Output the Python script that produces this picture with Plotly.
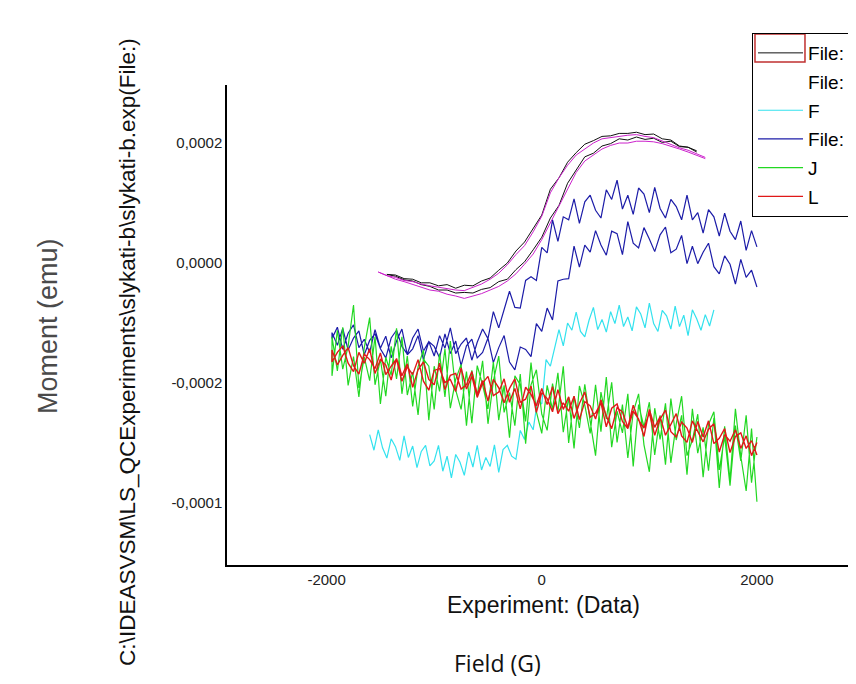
import numpy as np
import plotly.graph_objects as go

# Field sweeps (G)
FIELD_WIDE = [-1950, -1900, -1850, -1800, -1750, -1700, -1650, -1600, -1550, -1500,
              -1450, -1400, -1350, -1300, -1250, -1200, -1150, -1100, -1050, -1000,
              -950, -900, -850, -800, -750, -700, -650, -600, -550, -500,
              -450, -400, -350, -300, -250, -200, -150, -100, -50, 0,
              50, 100, 150, 200, 250, 300, 350, 400, 450, 500,
              550, 600, 650, 700, 750, 800, 850, 900, 950, 1000,
              1050, 1100, 1150, 1200, 1250, 1300, 1350, 1400, 1450, 1500,
              1550, 1600, 1650, 1700, 1750, 1800, 1850, 1900, 1950, 2000]
FIELD_CYAN = [-1600, -1560, -1520, -1480, -1440, -1400, -1360, -1320, -1280, -1240,
              -1200, -1160, -1120, -1080, -1040, -1000, -960, -920, -880, -840,
              -800, -760, -720, -680, -640, -600, -560, -520, -480, -440,
              -400, -360, -320, -280, -240, -200, -160, -120, -80, -40,
              0, 40, 80, 120, 160, 200, 240, 280, 320, 360,
              400, 440, 480, 520, 560, 600, 640, 680, 720, 760,
              800, 840, 880, 920, 960, 1000, 1040, 1080, 1120, 1160,
              1200, 1240, 1280, 1320, 1360, 1400, 1440, 1480, 1520, 1560, 1600]
FIELD_BLACK = [-1440, -1360, -1280, -1200, -1120, -1040, -960, -880, -800, -720,
               -640, -560, -480, -400, -320, -240, -160, -80, 0, 80,
               160, 240, 320, 400, 480, 560, 640, 720, 800, 880,
               960, 1040, 1120, 1200, 1280, 1360, 1440]
FIELD_MAGENTA = [-1520] + FIELD_BLACK + [1520]

# Moments in micro-emu
BLACK_DOWN = [187, 193, 195, 205, 207, 215, 214, 218, 216, 216, 212, 211, 204, 198, 184, 168, 142, 123,
              80, 58, 35, 20, 0, -12, -25, -30, -38, -37, -42, -36, -38, -33, -33, -27, -26, -20, -19]
BLACK_UP = [-19, -22, -28, -30, -36, -39, -45, -45, -50, -49, -50, -44, -41, -31, -27, -11, 2, 22,
            43, 75, 96, 133, 156, 177, 183, 195, 199, 207, 205, 210, 206, 208, 201, 203, 194, 193, 185]
MAGENTA_DOWN = [176, 182, 188, 192, 198, 203, 209, 211, 214, 213, 211, 209, 207, 200, 190, 180, 163, 142, 117,
                78, 52, 29, 14, -3, -17, -27, -35, -40, -46, -45, -43, -40, -38, -35, -31, -29, -24, -21, -15]
MAGENTA_UP = [-15, -22, -27, -31, -36, -40, -45, -47, -52, -55, -59, -55, -51, -45, -39, -30, -18, -2, 15,
              39, 67, 95, 125, 151, 170, 180, 190, 196, 200, 200, 203, 203, 202, 199, 195, 190, 185, 180, 174]
CYAN = [-286, -312, -278, -308, -325, -293, -306, -329, -288, -324,
        -305, -341, -314, -304, -338, -330, -304, -347, -322, -358,
        -319, -332, -354, -315, -340, -304, -345, -324, -339, -303,
        -349, -311, -304, -322, -327, -279, -294, -265, -278, -229,
        -235, -161, -172, -139, -111, -138, -100, -112, -82, -114,
        -123, -95, -74, -111, -94, -115, -81, -101, -70, -106,
        -90, -113, -73, -85, -108, -67, -101, -114, -79, -88,
        -110, -72, -106, -87, -121, -78, -93, -112, -86, -105, -78]
BLUE_DOWN = [-116, -137, -109, -145, -125, -113, -153, -129, -118, -143,
             -158, -125, -112, -139, -152, -125, -110, -147, -131, -155,
             -121, -142, -108, -151, -135, -125, -162, -132, -110, -126,
             -81, -108, -76, -47, -74, -75, -29, -23, -29, 26,
             17, 72, 36, 77, 72, 107, 66, 102, 113, 88,
             75, 122, 106, 138, 90, 113, 81, 125, 115, 84,
             126, 91, 75, 106, 94, 72, 113, 72, 84, 50,
             89, 77, 45, 83, 53, 39, 70, 21, 54, 27]
BLUE_UP = [-126, -107, -144, -117, -103, -141, -127, -149, -111, -142,
           -122, -158, -130, -110, -153, -143, -121, -161, -131, -139,
           -158, -118, -151, -130, -171, -138, -127, -158, -149, -125,
           -166, -141, -121, -165, -178, -140, -144, -156, -101, -114,
           -75, -95, -30, -27, -26, 28, -7, 30, 18, 54,
           30, 13, 53, 49, 14, 69, 33, 25, 59, 40,
           19, 47, 60, 17, 23, 46, -1, 28, -1, 18,
           33, -6, -18, 12, -2, -35, 6, -24, -12, -40]
GREEN_DOWN = [-123, -180, -107, -204, -156, -223, -141, -91, -203, -160,
              -222, -139, -193, -123, -220, -182, -253, -160, -172, -244,
              -151, -223, -130, -212, -244, -181, -267, -171, -203, -243,
              -165, -262, -204, -291, -188, -203, -264, -166, -248, -284,
              -204, -244, -183, -282, -224, -309, -205, -237, -284, -203,
              -281, -190, -307, -247, -283, -218, -339, -236, -273, -232,
              -320, -254, -336, -226, -295, -254, -353, -243, -317, -274,
              -346, -258, -375, -272, -362, -243, -322, -380, -276, -398]
GREEN_UP = [-188, -112, -177, -139, -70, -208, -157, -196, -123, -235,
            -157, -187, -109, -218, -155, -239, -173, -145, -262, -172,
            -214, -143, -242, -194, -169, -271, -179, -221, -163, -268,
            -197, -155, -249, -216, -271, -185, -301, -203, -178, -252,
            -279, -201, -248, -172, -300, -222, -275, -202, -264, -321,
            -215, -260, -199, -299, -236, -325, -249, -218, -303, -348,
            -242, -294, -234, -333, -268, -222, -321, -295, -252, -357,
            -269, -248, -345, -289, -371, -271, -330, -254, -366, -290]
RED_DOWN = [-145, -170, -154, -141, -171, -185, -152, -161, -176, -150,
            -186, -172, -160, -197, -173, -186, -161, -197, -212, -179,
            -176, -199, -194, -214, -175, -210, -189, -224, -200, -189,
            -221, -215, -193, -232, -209, -243, -207, -219, -238, -209,
            -236, -206, -251, -233, -247, -222, -261, -231, -238, -260,
            -228, -255, -276, -241, -248, -274, -237, -262, -275, -250,
            -287, -260, -245, -281, -290, -265, -275, -299, -264, -290,
            -263, -301, -292, -276, -316, -289, -283, -309, -296, -320]
RED_UP = [-165, -149, -138, -167, -181, -149, -167, -143, -184, -161,
          -170, -195, -159, -188, -168, -207, -178, -165, -194, -203,
          -167, -211, -187, -184, -210, -203, -181, -219, -196, -230,
          -194, -208, -233, -209, -193, -232, -227, -205, -249, -216,
          -226, -248, -211, -244, -223, -259, -234, -215, -257, -250,
          -233, -273, -242, -235, -264, -276, -247, -260, -289, -244,
          -274, -256, -287, -268, -251, -288, -299, -263, -280, -298,
          -277, -268, -315, -286, -297, -278, -309, -288, -321, -299]

X_TICKS = [-2000, 0, 2000]
X_TICK_TEXT = ["-2000", "0", "2000"]
Y_TICKS = [2e-4, 0.0, -2e-4, -4e-4]
Y_TICK_TEXT = ["0,0002", "0,0000", "-0,0002", "-0,0001"]

PATH_TITLE = r"C:\IDEASVSM\LS_QCExperiments\slykati-b\slykati-b.exp(File:)"
FONT = "Liberation Sans, Arial, sans-serif"
PAD = "\u00a0" * 30


def emu(values):
    return np.asarray(values, dtype=float) * 1e-6


def loop(field, down, up):
    # descending branch first, then the ascending one
    x = list(field[::-1]) + list(field)
    y = np.concatenate([emu(down[::-1]), emu(up)])
    return x, y


def title(fig, text, x, y, size, color="#111111", angle=0, family=FONT):
    fig.add_annotation(text=text, xref="paper", yref="paper", x=x, y=y, xanchor="center",
                       yanchor="middle", textangle=angle, showarrow=False,
                       font=dict(family=family, size=size, color=color))


def build_figure() -> go.Figure:
    fig = go.Figure()

    bx = list(FIELD_BLACK[::-1]) + FIELD_BLACK
    fig.add_scatter(x=bx, y=emu(BLACK_DOWN + BLACK_UP), mode="lines", name="File:" + PAD,
                    legendgroup="g1", line=dict(color="#111111", width=1))
    mx = list(FIELD_MAGENTA[::-1]) + FIELD_MAGENTA
    fig.add_scatter(x=mx, y=emu(MAGENTA_DOWN + MAGENTA_UP), mode="lines", showlegend=False,
                    line=dict(color="#cc22cc", width=1))
    fig.add_scatter(x=[None], y=[None], mode="lines", name="File:", legendgroup="g2",
                    line=dict(color="rgba(0,0,0,0)", width=1))
    fig.add_scatter(x=FIELD_CYAN, y=emu(CYAN), mode="lines", name="F", legendgroup="g3",
                    line=dict(color="#33e2ee", width=1.2))
    x, y = loop(FIELD_WIDE, BLUE_DOWN, BLUE_UP)
    fig.add_scatter(x=x, y=y, mode="lines", name="File:", legendgroup="g4",
                    line=dict(color="#1c1ca8", width=1.2))
    x, y = loop(FIELD_WIDE, GREEN_DOWN, GREEN_UP)
    fig.add_scatter(x=x, y=y, mode="lines", name="J", legendgroup="g5",
                    line=dict(color="#22d822", width=1.2))
    x, y = loop(FIELD_WIDE, RED_DOWN, RED_UP)
    fig.add_scatter(x=x, y=y, mode="lines", name="L", legendgroup="g6",
                    line=dict(color="#e01818", width=1.4))

    # the page body adds an 8px offset, so the figure is 8px smaller on each axis
    fig.update_layout(
        width=848,
        height=676,
        margin=dict(l=219, r=0, t=77, b=119, autoexpand=False),
        paper_bgcolor="white",
        plot_bgcolor="white",
        font=dict(family=FONT, size=15, color="#222222"),
        legend=dict(
            x=0.8347, y=1.1083, xanchor="left", yanchor="top",
            bordercolor="black", borderwidth=1, bgcolor="rgba(0,0,0,0)",
            font=dict(size=19, color="black"), tracegroupgap=1, itemwidth=45,
        ),
    )
    fig.update_xaxes(range=[-2926, 2921], showgrid=False, zeroline=False, showline=True,
                     linecolor="black", linewidth=1.5, ticks="", tickvals=X_TICKS,
                     ticktext=X_TICK_TEXT, tickfont=dict(size=15))
    fig.update_yaxes(range=[-503.3e-6, 296.7e-6], showgrid=False, zeroline=False, showline=True,
                     linecolor="black", linewidth=1.5, ticks="", tickvals=Y_TICKS,
                     ticktext=Y_TICK_TEXT, tickfont=dict(size=15))

    # highlight box around the first legend entry
    fig.add_shape(type="rect", xref="paper", yref="paper", x0=0.8394, x1=0.9189, y0=1.0479, y1=1.1063,
                  line=dict(color="#c03030", width=1.5))

    title(fig, PATH_TITLE, -0.1574, 0.444, 22.5, angle=-90)
    title(fig, "Moment (emu)", -0.2846, 0.498, 27, color="#4a4a4a", angle=-90)
    title(fig, "Experiment: (Data)", 0.5024, -0.0833, 23)
    title(fig, "Field (G)", 0.4293, -0.204, 23, family="Open Sans, Noto Sans, sans-serif")
    return fig


if __name__ == "__main__":
    build_figure().write_html("out.html")
